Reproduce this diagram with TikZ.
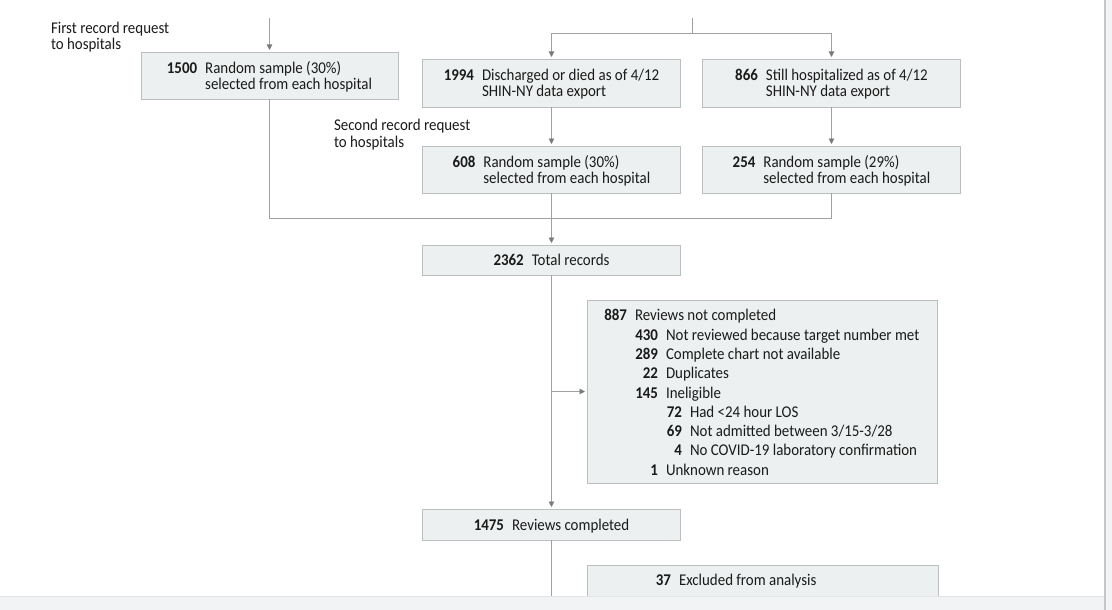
\documentclass[tikz,border=0pt]{standalone}
\usepackage{fontspec}
\setmainfont{Carlito}[FakeStretch=0.91]
\usetikzlibrary{arrows.meta}
\definecolor{boxfill}{HTML}{EDF0F0}
\definecolor{boxline}{HTML}{BBBFBF}
\definecolor{connc}{HTML}{A0A0A0}
\definecolor{tipc}{HTML}{7A7A7A}
\definecolor{txt}{HTML}{1A1A1A}
\definecolor{bandc}{HTML}{F2F3F5}
\definecolor{bandline}{HTML}{E2E4E7}
\definecolor{edgec}{HTML}{C6C6C6}
\newcommand\listline[5]{%
  \node[numtxt] (#1n) at (#3,#2) {#4};
  \node[itemtxt] (#1t) at (#3+8,#2) {#5};}
\begin{document}
\begin{tikzpicture}[x=1pt,y=-1pt,
  every node/.style={inner sep=0pt, outer sep=0pt, text=txt, font=\fontsize{16.4}{16}\selectfont},
  box/.style={draw=boxline, fill=boxfill, line width=0.9pt, minimum width=258pt, minimum height=47pt},
  connline/.style={draw=connc, line width=0.9pt},
  arr/.style={connline, -{Triangle[width=5.5pt,length=5.5pt,color=tipc]}, shorten >=2pt},
  numtxt/.style={anchor=base east, font=\fontsize{16.4}{16}\selectfont\bfseries},
  itemtxt/.style={anchor=base west},
  boxtxt/.style={anchor=base},
]
\useasboundingbox (0,0) rectangle (1112,610);
\fill[white] (0,0) rectangle (1112,610);

% boxes
\node[box, minimum width=257pt] (b1500) at (269.5,75.5) {};
\node[box, minimum height=48pt] (b1994) at (551.5,83) {};
\node[box, minimum height=48pt] (b866) at (831.5,83) {};
\node[box] (b608) at (551.5,169.5) {};
\node[box] (b254) at (831.5,169.5) {};
\node[box, minimum height=30pt] (b2362) at (551.5,260) {};
\node[box, minimum width=350pt, minimum height=183pt] (b887) at (762,391.5) {};
\node[box, minimum height=31pt] (b1475) at (551.5,524.5) {};
\node[box, minimum width=351pt, minimum height=90pt, anchor=north] (b37) at (762.5,565) {};

% box texts
\node[boxtxt] (t1500) at (269.5,73.5) {\begin{tabular}[t]{@{}r@{\hspace{8pt}}l@{}}\textbf{1500} & Random sample (30\%)\\ & selected from each hospital\end{tabular}};
\node[boxtxt] (t1994) at (551.5,80.5) {\begin{tabular}[t]{@{}r@{\hspace{8pt}}l@{}}\textbf{1994} & Discharged or died as of 4/12\\ & SHIN-NY data export\end{tabular}};
\node[boxtxt] (t866) at (831.5,80.5) {\begin{tabular}[t]{@{}r@{\hspace{8pt}}l@{}}\textbf{866} & Still hospitalized as of 4/12\\ & SHIN-NY data export\end{tabular}};
\node[boxtxt] (t608) at (551.5,167.2) {\begin{tabular}[t]{@{}r@{\hspace{8pt}}l@{}}\textbf{608} & Random sample (30\%)\\ & selected from each hospital\end{tabular}};
\node[boxtxt] (t254) at (831.5,167.2) {\begin{tabular}[t]{@{}r@{\hspace{8pt}}l@{}}\textbf{254} & Random sample (29\%)\\ & selected from each hospital\end{tabular}};
\node[boxtxt] (t2362) at (551.5,265.5) {\textbf{2362}\hspace{8pt}Total records};
\node[boxtxt] (t1475) at (551.5,530) {\textbf{1475}\hspace{8pt}Reviews completed};

\listline{l0}{320.8}{627}{887}{Reviews not completed}
\listline{l1}{340.1}{658}{430}{Not reviewed because target number met}
\listline{l2}{359.4}{658}{289}{Complete chart not available}
\listline{l3}{378.7}{658}{22}{Duplicates}
\listline{l4}{398.0}{658}{145}{Ineligible}
\listline{l5}{417.3}{682}{72}{Had <24 hour LOS}
\listline{l6}{436.6}{682}{69}{Not admitted between 3/15-3/28}
\listline{l7}{455.9}{682}{4}{No COVID-19 laboratory confirmation}
\listline{l8}{475.2}{658}{1}{Unknown reason}
\listline{m0}{585.5}{671}{37}{Excluded from analysis}

% side labels
\node[anchor=base west] (first) at (51,33.5) {\begin{tabular}[t]{@{}l@{}}First record request\\to hospitals\end{tabular}};
\node[anchor=base west] (second) at (334,131) {\begin{tabular}[t]{@{}l@{}}Second record request\\to hospitals\end{tabular}};

% connectors
\coordinate (top1) at (269.5,18);
\coordinate (top2) at (692,18);
\coordinate (split) at (692,33);
\coordinate (merge) at (551.5,218);
\coordinate (bot) at (551.5,620);
\draw[arr] (top1) -- (b1500.north);
\draw[connline] (top2) -- (split);
\draw[arr] (split) -| (b1994.north);
\draw[arr] (split) -| (b866.north);
\draw[arr] (b1994.south) -- (b608.north);
\draw[arr] (b866.south) -- (b254.north);
\draw[connline] (b1500.south) |- (merge);
\draw[connline] (b254.south) |- (merge);
\draw[arr] (b608.south) -- (b2362.north);
\draw[arr] (b2362.south) -- (b1475.north);
\draw[arr] (b2362.south |- b887.west) -- (b887.west);
\draw[connline] (b1475.south) -- (bot);

% page frame
\fill[bandc] (0,596) rectangle (1105,610);
\draw[bandline, line width=0.8pt] (0,596) -- (1105,596);
\fill[bandc] (1105,0) rectangle (1112,610);
\draw[edgec, line width=1.6pt] (1105,0) -- (1105,610);
\end{tikzpicture}
\end{document}
